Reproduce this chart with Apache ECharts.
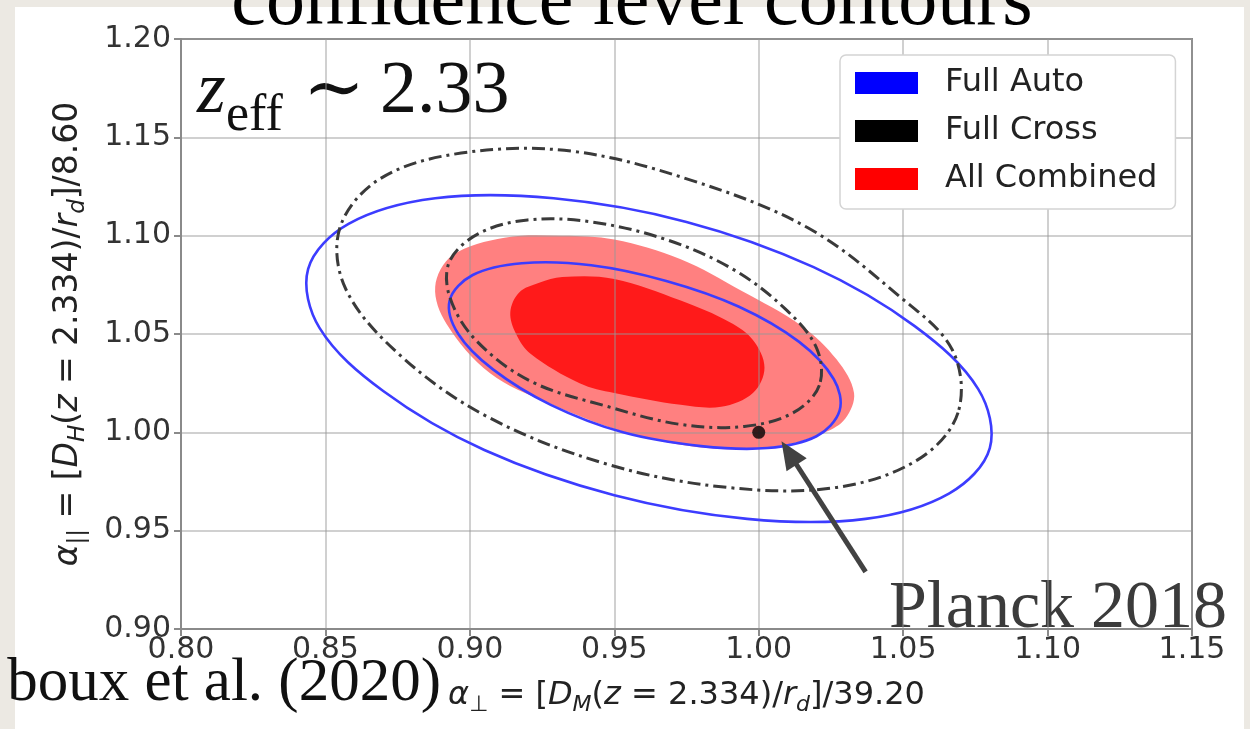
<!DOCTYPE html>
<html>
<head>
<meta charset="utf-8">
<script src="https://cdn.jsdelivr.net/npm/echarts@6/dist/echarts.min.js"></script>
<style>
  html, body { margin: 0; padding: 0; width: 1250px; height: 729px; overflow: hidden; background: #ece9e3; }
  #paper { position: absolute; left: 15px; top: 7px; width: 1229px; height: 722px; background: #ffffff; }
  #chart { position: absolute; left: 0; top: 0; width: 1250px; height: 729px; }
</style>
</head>
<body>
<div id="paper"></div>
<div id="chart"></div>
<script>
// Axis ranges (alpha_perp on x, alpha_parallel on y)
const xRange = [0.80, 1.15];
const yRange = [0.90, 1.20];
const tickStep = 0.05;

// Legend entries
const legendNames = ['Full Auto', 'Full Cross', 'All Combined'];

// Full Auto: 95% (outer) and 68% (inner) contours, [alpha_perp, alpha_par]
const autoOuter = [
  [1.080, 0.992], [1.066, 0.969], [1.037, 0.956], [0.996, 0.956],
  [0.950, 0.968], [0.905, 0.991], [0.870, 1.021], [0.848, 1.053],
  [0.844, 1.083], [0.858, 1.106], [0.888, 1.119], [0.929, 1.119],
  [0.975, 1.107], [1.019, 1.084], [1.054, 1.054], [1.076, 1.022]
];
const autoInner = [
  [1.028, 1.011], [1.020, 0.998], [1.003, 0.992], [0.980, 0.993],
  [0.953, 1.000], [0.928, 1.014], [0.908, 1.032], [0.896, 1.050],
  [0.893, 1.067], [0.901, 1.080], [0.918, 1.086], [0.942, 1.085],
  [0.968, 1.077], [0.993, 1.064], [1.014, 1.046], [1.026, 1.027]
];

// Full Cross: 95% and 68% contours
const crossOuter = [
  [1.069, 1.010], [1.055, 0.986], [1.027, 0.972], [0.989, 0.972],
  [0.947, 0.984], [0.906, 1.008], [0.876, 1.039], [0.857, 1.073],
  [0.855, 1.104], [0.869, 1.129], [0.897, 1.142], [0.935, 1.143],
  [0.977, 1.128], [1.017, 1.104], [1.048, 1.070], [1.067, 1.042]
];
const crossInner = [
  [1.021, 1.024], [1.012, 1.010], [0.995, 1.003], [0.973, 1.004],
  [0.948, 1.013], [0.921, 1.026], [0.902, 1.047], [0.893, 1.069],
  [0.893, 1.087], [0.903, 1.101], [0.920, 1.108], [0.942, 1.107],
  [0.968, 1.098], [0.991, 1.083], [1.009, 1.063], [1.020, 1.043]
];

// All Combined: 95% and 68% filled regions
const combOuter = [
  [0.888, 1.074], [0.894, 1.090], [0.912, 1.099], [0.932, 1.100],
  [0.950, 1.098], [0.973, 1.088], [0.994, 1.072], [1.015, 1.054],
  [1.027, 1.037], [1.033, 1.020], [1.030, 1.007], [1.023, 1.000],
  [1.007, 0.993], [0.982, 0.992], [0.954, 1.000], [0.927, 1.015],
  [0.907, 1.030], [0.892, 1.055]
];
const combInner = [
  [0.914, 1.061], [0.917, 1.071], [0.924, 1.076], [0.932, 1.079],
  [0.950, 1.078], [0.973, 1.067], [0.990, 1.056], [0.998, 1.047],
  [1.002, 1.033], [0.998, 1.020], [0.987, 1.013], [0.973, 1.014],
  [0.950, 1.020], [0.938, 1.025], [0.921, 1.040], [0.916, 1.050]
];

// Planck 2018 reference point and the annotation arrow pointing at it
const planckPoint = [1.00, 1.00];
const arrowFrom = [1.037, 0.929];
const arrowTo = [1.0105, 0.9895];

const SANS = '"DejaVu Sans", sans-serif';
const SERIF = '"Liberation Serif", "DejaVu Serif", serif';

// One closed smooth polygon per contour, projected through the cartesian axes
function contourSeries(name, contours, styles, z) {
  return {
    type: 'custom',
    name: name,
    coordinateSystem: 'cartesian2d',
    z: z,
    silent: true,
    clip: true,
    itemStyle: { color: styles.legendColor },
    data: contours.map((c, i) => [c[0][0], c[0][1], i]),
    encode: { x: 0, y: 1 },
    renderItem: function (params, api) {
      const idx = api.value(2);
      const pts = contours[idx].map(p => api.coord(p));
      return {
        type: 'polygon',
        shape: { points: pts, smooth: 0.35 },
        style: styles.list[idx]
      };
    }
  };
}

// rich text pieces for mathtext-like axis names
function mathRich(size, color) {
  const sub = Math.round(size * 0.7);
  const base = { fontFamily: SANS, fontSize: size, color: color, verticalAlign: 'top', lineHeight: size };
  return {
    n: Object.assign({}, base),
    i: Object.assign({}, base, { fontStyle: 'italic' }),
    s: Object.assign({}, base, { fontSize: sub, lineHeight: sub, padding: [Math.round(size * 0.44), 0, 0, 0] }),
    si: Object.assign({}, base, { fontSize: sub, lineHeight: sub, fontStyle: 'italic', padding: [Math.round(size * 0.44), 0, 0, 0] })
  };
}

const chart = echarts.init(document.getElementById('chart'), null, { renderer: 'canvas' });

const axisGray = '#8a8a8a';
const labelColor = '#333333';

const option = {
  animation: false,
  backgroundColor: 'transparent',
  grid: {
    left: 181, top: 39, width: 1011, height: 590,
    show: true, borderColor: axisGray, borderWidth: 2, backgroundColor: 'transparent',
    containLabel: false, outerBoundsMode: 'none'
  },
  xAxis: {
    type: 'value', min: xRange[0], max: xRange[1], interval: tickStep,
    name: '{i|α}{s|⊥}{n| = [}{i|D}{si|M}{n|(}{i|z}{n| = 2.334)/}{i|r}{si|d}{n|]/39.20}',
    nameLocation: 'middle', nameGap: 51,
    nameTextStyle: { rich: mathRich(32, '#222') },
    axisLine: { show: true, lineStyle: { color: axisGray, width: 2 } },
    axisTick: { show: true, length: 7, lineStyle: { color: axisGray, width: 2 } },
    axisLabel: {
      show: true, margin: 6, showMinLabel: true, showMaxLabel: true, hideOverlap: false,
      fontFamily: SANS, fontSize: 30, color: labelColor,
      formatter: v => v.toFixed(2)
    },
    splitLine: { show: true, lineStyle: { color: 'rgba(150,150,150,0.45)', width: 2 } }
  },
  yAxis: {
    type: 'value', min: yRange[0], max: yRange[1], interval: tickStep,
    name: '{i|α}{s|||}{n| = [}{i|D}{si|H}{n|(}{i|z}{n| = 2.334)/}{i|r}{si|d}{n|]/8.60}',
    nameLocation: 'middle', nameGap: 96, nameRotate: 90,
    nameTextStyle: { rich: mathRich(33, '#222') },
    axisLine: { show: true, lineStyle: { color: axisGray, width: 2 } },
    axisTick: { show: true, length: 7, lineStyle: { color: axisGray, width: 2 } },
    axisLabel: {
      show: true, margin: 10, showMinLabel: true, showMaxLabel: true, hideOverlap: false,
      fontFamily: SANS, fontSize: 30, color: labelColor,
      formatter: v => v.toFixed(2)
    },
    splitLine: { show: true, lineStyle: { color: 'rgba(150,150,150,0.45)', width: 2 } }
  },
  legend: {
    show: true, orient: 'vertical', left: 840, top: 55,
    padding: [12, 18, 14, 15],
    itemWidth: 63, itemHeight: 22, itemGap: 16, icon: 'rect',
    backgroundColor: '#ffffff', borderColor: '#d4d4d4', borderWidth: 1.5, borderRadius: 6,
    selectedMode: false,
    textStyle: { fontFamily: SANS, fontSize: 32, lineHeight: 32, color: '#222', padding: [0, 0, 0, 22] },
    data: [
      { name: legendNames[0], itemStyle: { color: '#0000ff' } },
      { name: legendNames[1], itemStyle: { color: '#000000' } },
      { name: legendNames[2], itemStyle: { color: '#ff0000' } }
    ]
  },
  series: [
    contourSeries(legendNames[2], [combOuter, combInner], {
      legendColor: '#ff0000',
      list: [
        { fill: '#ff8080', stroke: null },
        { fill: '#ff1a1a', stroke: null }
      ]
    }, -1),
    contourSeries(legendNames[0], [autoOuter, autoInner], {
      legendColor: '#0000ff',
      list: [
        { fill: null, stroke: '#3c3cff', lineWidth: 2.6 },
        { fill: null, stroke: '#3c3cff', lineWidth: 2.6 }
      ]
    }, 3),
    contourSeries(legendNames[1], [crossOuter, crossInner], {
      legendColor: '#000000',
      list: [
        { fill: null, stroke: '#3a3a3a', lineWidth: 3, lineDash: [13, 5, 3, 5] },
        { fill: null, stroke: '#3a3a3a', lineWidth: 3, lineDash: [13, 5, 3, 5] }
      ]
    }, 3),
    {
      type: 'scatter',
      name: 'Planck 2018',
      z: 5,
      silent: true,
      symbol: 'circle',
      symbolSize: 13,
      itemStyle: { color: '#000000' },
      data: [planckPoint],
      markLine: {
        silent: true,
        symbol: ['none', 'triangle'],
        symbolSize: [24, 28],
        label: { show: false },
        lineStyle: { color: '#424242', width: 5, type: 'solid' },
        data: [[{ coord: arrowFrom }, { coord: arrowTo }]]
      }
    }
  ],
  graphic: [
    {
      type: 'text', x: 632, y: 4, silent: true,
      style: { text: 'confidence level contours', font: '78px ' + SERIF, fill: '#000', align: 'center', verticalAlign: 'middle' }
    },
    {
      type: 'text', x: 197, y: 93, silent: true,
      style: { text: 'z', font: 'italic 74px ' + SERIF, fill: '#111', align: 'left', verticalAlign: 'middle' }
    },
    {
      type: 'text', x: 226, y: 116, silent: true,
      style: { text: 'eff', font: '52px ' + SERIF, fill: '#111', align: 'left', verticalAlign: 'middle' }
    },
    {
      type: 'text', x: 303, y: 93, silent: true,
      style: { text: '∼', font: '74px ' + SERIF, fill: '#111', align: 'left', verticalAlign: 'middle' }
    },
    {
      type: 'text', x: 380, y: 93, silent: true,
      style: { text: '2.33', font: '74px ' + SERIF, fill: '#111', align: 'left', verticalAlign: 'middle' }
    },
    {
      type: 'text', x: 889, y: 609, silent: true,
      style: { text: 'Planck 2018', font: '68px ' + SERIF, fill: '#3b3b3b', align: 'left', verticalAlign: 'middle' }
    },
    {
      type: 'text', x: 441, y: 684, silent: true,
      style: { text: 'boux et al. (2020)', font: '61px ' + SERIF, fill: '#111', align: 'right', verticalAlign: 'middle' }
    }
  ]
};

chart.setOption(option);
</script>
</body>
</html>
